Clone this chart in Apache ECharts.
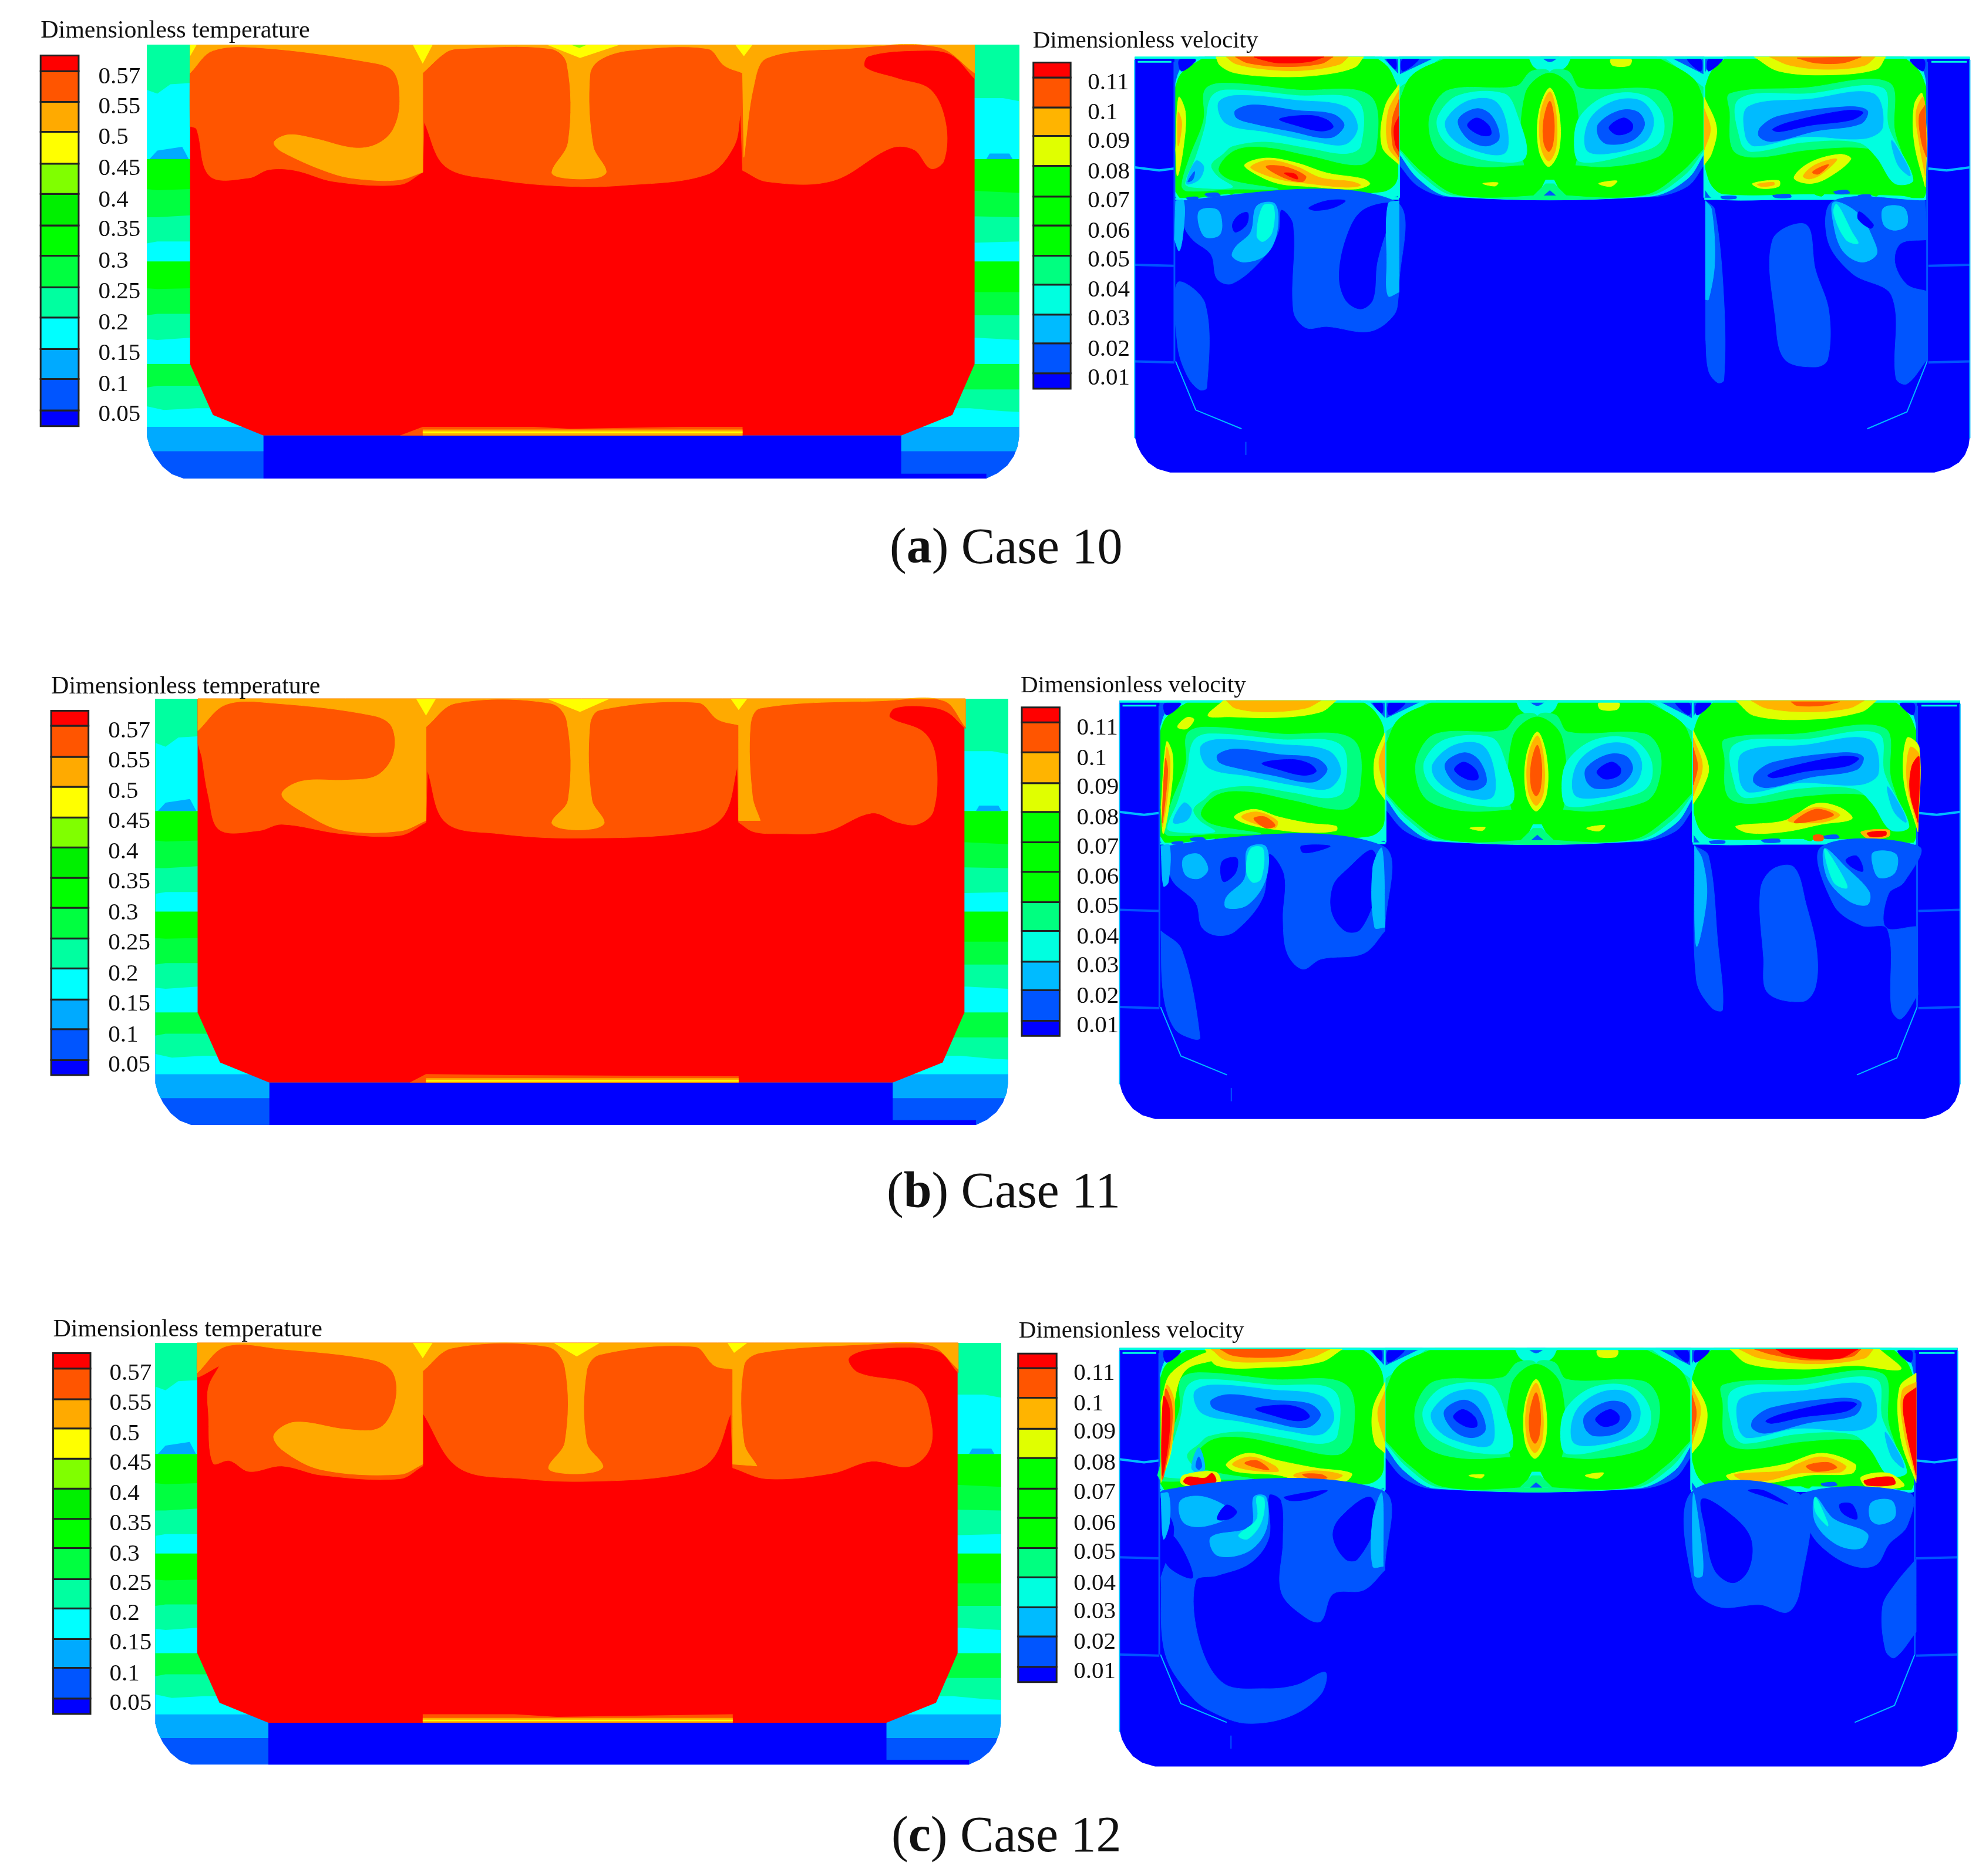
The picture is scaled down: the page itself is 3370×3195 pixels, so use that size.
<!DOCTYPE html>
<html><head><meta charset="utf-8"><style>html,body{margin:0;background:#fff}#c{width:3370px;height:3195px}</style>
<script src="https://cdn.jsdelivr.net/npm/echarts@6/dist/echarts.min.js"></script></head><body><div id="c"></div>
<script>
// Band colours, lowest band first
const tempColors=['#0000ff','#0055ff','#00aaff','#00ffff','#00ffa0','#00ff40','#00ff00','#00f000','#80ff00','#ffff00','#ffaa00','#ff5500','#ff0000'];
const velColors=['#0000ff','#0055ff','#00bbff','#00ffe0','#00ff80','#00ff00','#e0ff00','#ffb400','#ff5500','#ff0000'];
const velLegendLevels=[0,1,2,3,4,5,5,5,6,7,8,9];
const tempTicks=['0.57','0.55','0.5','0.45','0.4','0.35','0.3','0.25','0.2','0.15','0.1','0.05'];
const velTicks=['0.11','0.1','0.09','0.08','0.07','0.06','0.05','0.04','0.03','0.02','0.01'];
const caseNames=['Case 10','Case 11','Case 12'];
const caseLetters=['a','b','c'];
// Contours: [band level, x,y outline, kind]. kind: none=smooth region, 'p'=straight-edged region, number=thin line
const tempBase=[
[1,[224,120,1555,120,1555,1165,1553,1190,1547,1218,1537,1243,1522,1264,1505,1278,280,1278,262,1266,248,1246,236,1218,228,1190,224,1165],'p'],
[2,[224,120,1555,120,1555,1165,1553,1190,1550,1205,232,1205,228,1190,224,1165],'p'],
[3,[224,120,1555,120,1555,1140,224,1140],'p'],
[4,[224,120,1555,120,1555,1100,1530,1098,1480,1090,300,1090,250,1095,224,1085],'p'],
[5,[224,120,1555,120,1555,1040,1490,1040,290,1030,240,1030,224,1035],'p'],
[3,[224,120,1555,120,1555,972,224,972],'p'],
[4,[224,120,1555,120,1555,908,1490,902,290,902,240,908,224,905],'p'],
[5,[224,120,1555,120,1555,842,1490,842,290,838,240,838,224,842],'p'],
[6,[224,120,1555,120,1555,780,1490,780,290,770,240,772,224,770],'p'],
[3,[224,120,1555,120,1555,698,224,698],'p'],
[4,[224,120,1555,120,1555,645,1490,648,290,645,240,645,224,650],'p'],
[5,[224,120,1555,120,1555,580,1490,578,290,575,240,580,224,580],'p'],
[6,[224,120,1555,120,1555,515,1490,510,290,505,240,508,224,505],'p'],
[3,[224,120,1555,120,1555,425,224,425],'p'],
[2,[228,425,240,402,278,392,288,425],'p'],
[2,[1505,425,1510,410,1540,410,1545,425],'p'],
[4,[224,120,1555,120,1555,270,1530,262,1490,262,290,222,260,225,240,250,224,240],'p'],
[12,[290,120,1487,120,1487,972,1453,1108,1375,1163,402,1163,325,1108,290,972],'p'],
[0,[402,1163,1375,1163,1375,1265,1505,1265,1505,1278,402,1278],'p']];
const tempTopA=[
[11,[290,120,290,120,1487,120,1487,120,1487,210,1487,210,1450,145,1400,135,1325,150,1320,180,1370,210,1420,240,1443,330,1440,430,1420,450,1395,400,1360,395,1270,483,1170,485,1133,455,1133,455,1130,300,1130,300,1120,390,1080,465,950,495,860,497,760,480,680,445,647,325,647,325,645,460,645,460,610,493,510,485,450,455,410,453,380,475,320,470,300,345,292,338,290,338]],
[10,[290,195,290,195,325,135,400,128,560,165,600,190,610,270,600,345,575,385,540,395,480,370,440,360,418,380,430,405,510,465,560,480,610,480,645,460,645,460,645,195,645,195,680,140,700,130,840,130,865,170,867,380,842,460,860,475,910,475,925,458,905,390,900,200,915,160,960,135,1080,130,1105,175,1133,195,1133,195,1135,420,1135,420,1150,230,1170,155,1290,130,1430,125,1487,195,1487,195,1487,120,1487,120,290,120,290,120]],
[9,[630,120,660,120,645,170],'p'],[9,[835,120,945,120,885,155],'p'],[9,[1122,120,1148,120,1135,150],'p'],[8,[872,120,895,120,884,128],'p'],[9,[290,120,300,120,290,150],'p'],
[11,[610,1163,645,1140,815,1140,870,1145,1040,1140,1133,1140,1133,1163],'p'],[10,[645,1147,1133,1147,1133,1163,645,1163],'p'],[9,[645,1152,1133,1152,1133,1157,645,1157],'p']];
const tempTopB=[
[11,[302,110,302,110,1473,110,1473,110,1473,190,1473,190,1445,145,1410,130,1365,135,1358,160,1410,200,1428,270,1424,410,1400,445,1370,440,1330,415,1260,465,1190,470,1150,465,1127,440,1127,440,1125,290,1125,290,1105,420,1060,465,880,482,760,470,680,440,652,300,652,300,650,440,650,440,610,475,520,470,430,445,395,462,335,460,318,370,308,265,308,265,302,230,302,230]],
[10,[302,195,302,195,345,125,420,122,570,155,598,185,600,260,575,315,530,327,460,330,430,365,460,410,520,460,610,463,650,435,650,435,650,185,650,185,695,122,840,122,865,170,867,380,842,440,860,457,905,457,922,440,903,380,900,180,915,140,1065,120,1095,165,1127,180,1127,180,1127,435,1127,435,1160,435,1160,435,1148,370,1145,180,1160,135,1350,115,1440,115,1473,185,1473,185,1473,110,1473,110,302,110,302,110]],
[9,[635,110,665,110,650,155],'p'],[9,[835,110,930,110,885,145],'p'],[9,[1115,110,1140,110,1127,140],'p'],
[11,[625,1135,650,1112,785,1115,1127,1118,1127,1135],'p'],[10,[650,1123,1127,1123,1127,1135,650,1135],'p'],[9,[650,1128,1127,1128,1127,1132,650,1132],'p']];
const tempTopC=[
[11,[301,108,301,108,1462,108,1462,108,1462,190,1462,190,1430,130,1330,125,1295,150,1310,190,1400,230,1422,340,1415,410,1385,447,1330,432,1270,465,1170,480,1118,450,1118,450,1115,300,1115,300,1085,430,1030,470,900,487,800,480,700,450,645,300,645,300,645,445,645,445,610,480,490,470,430,445,380,460,350,430,325,437,318,300,318,230,335,170,335,170,305,200,301,200,301,108]],
[10,[301,190,301,190,345,117,430,125,570,155,600,190,603,270,580,340,530,345,450,325,418,360,430,400,490,455,610,468,645,440,645,440,645,185,645,185,690,122,835,118,862,175,862,380,837,450,860,465,905,462,920,445,895,380,895,185,915,140,1060,118,1090,170,1118,180,1118,180,1118,440,1118,440,1155,445,1155,445,1135,380,1135,170,1160,135,1320,112,1420,115,1462,180,1462,180,1462,108,1462,108,301,108,301,108]],
[9,[630,108,660,108,645,150],'p'],[9,[845,108,915,108,880,145],'p'],[9,[1110,108,1140,108,1120,135],'p'],
[11,[645,1125,785,1125,850,1132,1118,1125,1118,1148,645,1148],'p'],[10,[645,1135,1118,1135,1118,1148,645,1148],'p'],[9,[645,1140,1118,1140,1118,1144,645,1144],'p']];
const velBase=[
[0,[185,152,1553,152,1553,1165,1551,1190,1545,1215,1535,1235,1520,1250,1495,1262,243,1262,222,1252,207,1235,196,1212,189,1190,185,1165],'p'],
[1,[250,152,618,152,618,532,250,532],'p'],
[1,[1118,152,1483,152,1483,532,1118,532],'p'],
[3,[290,152,590,152,618,200,618,450,618,522,600,530,260,535,250,522,250,230,262,180]],
[5,[300,152,578,152,600,180,615,230,618,440,612,490,590,512,450,522,350,516,262,530,252,512,250,240,262,195]],
[3,[1150,152,1455,152,1475,185,1483,240,1483,514,1478,535,1300,530,1135,532,1118,505,1118,200,1125,180]],
[5,[1155,152,1445,152,1470,190,1483,240,1483,505,1475,530,1440,522,1300,518,1150,518,1130,495,1118,440,1118,240,1130,190]],
[1,[618,152,1118,152,1118,440,1090,498,1030,526,700,526,650,498,618,440]],
[3,[680,152,1060,152,1118,200,1118,410,1090,478,1030,524,700,524,650,478,618,410,618,200]],
[4,[690,152,1050,152,1118,235,1118,400,1085,468,1025,522,710,522,655,468,618,400,618,235]],
[5,[700,152,1040,152,1100,210,1118,270,1118,395,1078,462,1020,520,885,520,865,505,848,520,715,520,658,462,618,395,618,270,640,200]],
[3,[830,152,900,152,890,180,865,195,840,180]],[1,[850,152,880,152,865,165]],
[3,[845,522,858,480,872,480,885,522],'p'],[4,[838,522,858,490,872,490,892,522],'p'],[1,[855,522,865,508,875,522],'p'],
[4,[670,300,700,240,810,230,835,190,865,195,865,445,835,440,750,445,690,420,670,370]],
[4,[865,195,895,190,915,235,1040,240,1065,290,1060,380,1040,420,960,445,895,440,865,445]],
[5,[825,250,865,195,905,250,905,450,865,465,825,450]],
[3,[682,310,715,255,790,250,810,300,825,420,770,430,710,400,685,360]],
[2,[695,320,730,270,775,270,795,340,790,410,730,395,700,360]],
[1,[715,320,745,290,770,310,782,370,760,390,730,370]],
[0,[730,335,745,315,765,335,768,360,750,360]],
[3,[915,310,960,255,1020,255,1050,310,1045,380,1000,410,915,432,905,380]],
[2,[930,320,970,270,1015,270,1035,320,1020,380,960,410,925,400]],
[1,[945,330,980,295,1010,300,1020,335,1000,375,960,385,945,365]],
[0,[962,340,985,315,1000,330,998,350,975,360]],
[6,[865,235,880,300,880,400,863,445,847,400,847,300]],
[7,[865,245,875,300,875,395,863,430,850,390,850,300]],
[8,[865,270,872,320,870,385,863,405,855,380,855,320]],
[6,[965,158,998,158,995,175,968,175]],
[6,[755,490,780,488,775,497]],[6,[945,490,975,483,965,498]],
[3,[250,529,618,527,618,533,250,534],'p'],[3,[1118,528,1483,529,1483,534,1118,534],'p'],
[1,[300,518,320,515,325,523,305,525]],[0,[405,522,420,519,424,525,408,527]],[5,[335,510,348,508,344,520]],[5,[425,508,442,506,440,518]],[1,[360,520,380,518,383,526,365,527]],[0,[500,525,525,524,524,530,505,531]],[1,[270,528,288,526,288,532,272,533]],
[1,[1230,522,1258,519,1260,527,1235,528]],[1,[1330,512,1352,508,1356,516,1335,518]],[5,[1295,514,1316,511,1310,524]],[5,[1385,512,1406,509,1400,524]],[1,[1370,522,1390,520,1391,527,1372,528]],[1,[1145,525,1170,524,1170,530,1148,531]],
[0,[258,160,285,160,262,190]],[0,[598,158,612,158,612,185]],[0,[624,158,650,158,624,190]],[0,[1090,158,1112,158,1112,190]],[0,[1125,158,1148,158,1125,190]],[0,[1455,160,1478,160,1476,190]],
[3,[190,165,245,165],3],[3,[1490,165,1548,165],3],[3,[185,154,1553,154],4],
[2,[185,447,225,455,250,450],4],[1,[185,707,250,710],4],[1,[185,965,250,968],4],
[2,[1553,447,1515,455,1485,450],4],[1,[1553,707,1485,710],4],[1,[1553,965,1485,968],4],
[1,[250,165,250,965],3],[1,[1483,165,1483,965],3],[3,[618,152,618,528],3],[3,[1118,152,1118,528],3],
[2,[252,965,285,1095,360,1145],2],[2,[1483,965,1450,1100,1385,1145],2],[1,[367,1180,367,1215],2],[2,[185,160,185,1170],2],[2,[1553,160,1553,1170],2]];
const velVortexL=[
[4,[300,240,330,222,450,240,570,255,580,400,555,440,470,415,400,393,350,400,322,450,340,480,420,505,350,505,270,510,262,495,275,420,298,320]],
[3,[310,260,335,240,450,255,550,270,555,390,530,410,470,395,400,378,345,390,330,410,310,440,320,470,345,500,280,500,268,490,285,420,300,340]],
[2,[322,275,350,255,450,268,530,285,550,340,530,385,480,378,400,352,335,330]],
[1,[350,295,380,280,450,295,510,305,528,335,505,368,440,350,380,330,352,315]],
[0,[422,318,470,308,500,320,510,340,490,350,450,335]]];
const velVortexR=[
[4,[1160,250,1280,235,1420,220,1430,350,1445,440,1420,420,1380,395,1290,400,1200,420,1165,400,1160,300]],
[3,[1175,265,1290,250,1410,235,1420,340,1460,480,1430,490,1400,420,1370,380,1280,380,1195,405,1178,380]],
[2,[1190,285,1290,265,1395,250,1410,340,1380,370,1280,365,1200,390,1185,360]],
[1,[1210,340,1240,310,1350,285,1385,295,1375,330,1300,350,1230,378,1208,365]],
[0,[1230,345,1260,325,1350,295,1378,300,1360,320,1290,335,1240,352]],
[2,[1425,375,1450,440,1455,470,1435,440]]];
const velDetailA=[
[6,[318,152,560,152,545,180,490,200,420,205,350,195,325,175]],[7,[335,152,535,152,520,172,460,188,400,185,350,170]],[8,[350,152,510,152,490,170,430,178,370,168]],[9,[380,152,495,152,470,165,420,168,395,160]],
[6,[618,225,595,285,590,390,618,440,618,440]],[7,[618,240,600,300,600,390,618,430,618,430]],[8,[618,265,607,320,608,390,618,420,618,420]],[9,[618,310,610,340,612,385,618,405,618,405]],
[6,[257,260,268,300,265,390,255,470,252,400]],[7,[256,300,262,330,256,390]],
[6,[365,440,400,422,450,435,500,462,560,478,570,492,545,505,470,498,420,490,380,462]],[7,[375,445,405,428,450,445,490,475,540,485,555,495,530,500,470,490,425,480,385,458]],[8,[400,445,430,445,465,470,460,485,430,475]],[9,[430,462,448,465,452,478,440,472]],
[2,[270,490,285,430,298,445,290,480]],[1,[272,485,283,458,280,480]],
[1,[265,536,610,536,618,780,610,840,570,885,500,872,465,875,445,830,445,600,425,560,420,620,395,690,345,757,320,745,310,680,280,640,265,600]],
[0,[610,545,560,560,535,620,520,730,530,800,555,825,575,800,582,700,600,600]],[0,[470,555,500,536,530,536,510,555,480,562]],
[2,[290,565,320,560,328,600,322,630,298,630]],[2,[385,550,415,545,418,620,400,680,365,700,345,685,350,660,375,620]],[3,[395,550,412,550,410,620,395,645,385,630]],[0,[355,575,370,568,368,600,350,620,345,600]],
[2,[600,545,618,536,618,780,600,790,598,700]],[2,[252,536,265,536,265,610,258,670,250,640]],
[1,[255,755,300,810,303,1035,290,1040,270,1000,255,920]],
[1,[1120,536,1135,560,1150,800,1150,1015,1140,1022,1125,990,1120,900]],[2,[1120,536,1130,560,1135,700,1125,800,1120,800]],
[1,[1230,640,1285,600,1300,720,1322,830,1320,960,1300,980,1250,960,1235,860]],
[1,[1330,536,1480,536,1483,640,1440,650,1430,700,1450,760,1483,778,1483,960,1450,1025,1432,1010,1425,790,1360,730,1320,640]],
[2,[1330,540,1370,570,1395,640,1400,680,1375,700,1345,670,1330,600]],[3,[1335,545,1360,620,1370,650,1350,640,1330,570]],
[2,[1412,555,1445,555,1450,600,1430,615,1412,600]],[0,[1372,565,1395,600,1390,610,1370,585]],
[6,[1200,152,1415,152,1400,185,1320,200,1240,190]],[7,[1225,152,1398,152,1380,175,1320,185,1260,175]],[8,[1270,155,1375,152,1345,168,1300,168]],
[6,[1118,260,1138,340,1130,410,1118,440]],[7,[1118,290,1128,345,1118,400]],
[6,[1462,280,1475,250,1483,370,1480,500,1462,380]],[7,[1465,300,1477,260,1482,370,1480,470,1470,380]],[8,[1470,310,1480,280,1482,420,1474,380]],
[6,[1265,475,1290,435,1340,412,1358,425,1320,475,1290,490]],[7,[1280,470,1300,440,1335,425,1310,465,1290,478]],[8,[1295,460,1310,445,1322,440,1305,465]],
[6,[1197,490,1240,482,1240,498,1210,503]],[7,[1205,492,1232,487,1232,494,1212,498]]];
const velDetailB=[
[6,[305,155,330,115,515,115,490,145,420,160,340,158]],[7,[335,115,490,115,465,135,400,145,350,135]],[6,[255,185,270,160,282,165,270,190]],
[6,[595,200,578,270,580,340,595,380]],[7,[595,225,585,280,595,350]],
[6,[237,225,247,260,245,350,232,470,228,400]],[7,[237,240,243,280,238,380,230,450]],[8,[235,270,239,300,235,380,230,440]],
[6,[348,425,380,405,420,425,470,442,515,450,515,462,470,467,420,460,370,445]],[7,[360,425,385,412,418,435,415,455,385,445]],[8,[380,430,398,425,415,448,400,455]],
[2,[248,440,265,388,278,405,270,435]],
[6,[1170,115,1400,115,1375,145,1290,165,1200,155]],[7,[1195,115,1380,115,1355,135,1290,145,1220,135]],[8,[1260,118,1340,118,1310,128,1270,128]],
[6,[1100,195,1125,290,1115,350,1100,390]],[7,[1100,215,1115,290,1100,370]],[8,[1100,240,1107,290,1100,340]],
[6,[1450,215,1470,240,1468,465,1445,330]],[7,[1455,240,1470,260,1468,455,1450,330]],[9,[1458,290,1470,265,1468,440,1455,360]],
[6,[1170,450,1250,435,1300,390,1340,400,1360,430,1310,445,1250,465,1190,468]],[7,[1255,435,1300,400,1340,420,1310,440]],[8,[1265,440,1300,405,1330,420,1300,435]],
[7,[1375,465,1420,460,1420,478,1385,482]],[9,[1385,468,1415,464,1415,475,1390,478]],[8,[1297,475,1312,475,1312,488,1298,488]],
[1,[245,502,590,502,595,730,560,790,490,805,460,832,435,790,428,700,430,580,405,525,395,640,350,730,320,742,295,720,285,655,245,590]],
[0,[510,610,530,570,575,515,580,620,555,725,530,730,508,680]],[0,[458,503,505,503,480,518,460,520]],
[2,[265,535,290,525,305,565,290,590,268,580]],[0,[328,545,352,535,350,575,330,598]],[2,[370,510,400,505,400,590,370,660,335,668,335,640,365,590]],[3,[375,510,395,510,392,590,378,600,368,570]],
[2,[575,560,590,510,595,720,578,720]],[2,[228,502,242,502,240,600,232,610]],
[1,[228,730,262,780,292,1015,280,1018,250,990,232,900]],
[1,[1102,502,1125,530,1140,760,1148,940,1130,935,1105,860]],[2,[1102,502,1115,540,1122,640,1105,770]],
[1,[1210,620,1230,565,1265,560,1285,660,1302,780,1300,880,1280,918,1222,895,1215,800]],
[1,[1310,505,1470,505,1445,600,1420,630,1415,720,1465,718,1468,900,1440,965,1425,940,1418,725,1375,715,1330,660]],
[2,[1315,510,1350,560,1388,625,1385,660,1355,650,1320,590]],[3,[1315,510,1340,570,1352,615,1330,600]],[0,[1350,540,1368,530,1378,570,1360,560]],[2,[1395,520,1432,525,1430,575,1405,588,1395,560]]];
const velDetailC=[
[6,[300,125,525,125,490,160,400,175,320,170]],[7,[310,125,505,125,470,150,400,160,335,155]],[8,[325,125,465,125,440,142,390,148,345,142]],
[6,[595,215,575,290,578,380,595,410]],[7,[595,240,583,300,595,380]],
[6,[228,270,245,190,310,130,320,150,270,180,252,250,245,400,228,490]],[7,[237,225,250,270,245,390,228,485]],[8,[235,235,246,280,243,380,230,480]],[9,[232,255,242,290,240,380,230,470]],
[6,[335,440,370,410,420,430,480,450,540,465,530,487,470,492,420,470,350,460]],[7,[345,440,375,420,415,445,420,460,370,455]],[7,[445,470,480,458,525,470,510,483,470,485]],[8,[365,437,385,430,405,455,385,450]],[8,[460,468,490,468,500,478,475,480]],
[2,[278,450,290,395,300,450,290,465]],[1,[285,445,290,420,295,445,290,455]],
[6,[260,490,265,470,318,462,325,495,300,508,270,500]],[9,[265,488,272,475,300,478,312,465,318,488,300,502,275,497]],
[6,[1160,125,1405,125,1440,180,1365,170,1280,180,1190,165]],[7,[1175,125,1395,125,1380,150,1300,165,1210,150]],[8,[1200,125,1375,125,1360,145,1290,155,1230,140]],[9,[1235,125,1370,125,1340,150,1290,150,1250,138]],
[6,[1098,210,1122,290,1115,370,1098,410]],[7,[1098,230,1112,290,1098,385]],[8,[1098,250,1105,300,1098,360]],
[6,[1438,230,1465,190,1465,490,1440,370]],[7,[1442,240,1465,215,1465,480,1445,350]],[9,[1445,260,1465,230,1465,470,1448,340]],
[6,[1155,470,1250,440,1310,410,1365,440,1360,465,1290,470,1230,490,1170,490]],[7,[1168,468,1250,458,1270,440,1310,420,1350,445,1340,462,1270,465,1220,485,1180,483]],[8,[1285,445,1320,435,1335,450,1300,460]],
[6,[1375,475,1420,465,1445,500,1385,503]],[9,[1380,485,1425,475,1430,495,1385,498]],
[1,[232,512,590,512,595,730,560,785,510,795,490,870,465,860,425,790,428,650,425,540,405,525,405,640,375,710,320,745,285,760,290,920,330,1040,400,1055,450,1045,497,1010,490,1070,440,1130,370,1150,320,1125,280,1080,235,960,228,750,250,620]],
[0,[228,650,250,640,280,750,240,720]],
[0,[510,640,520,590,570,530,580,600,550,700,530,700]],[0,[430,530,500,512,470,535,440,540]],
[2,[260,540,300,530,345,575,300,610,265,600]],[0,[320,590,335,552,352,570,340,590]],
[2,[310,640,375,610,380,530,400,530,400,620,370,680,320,690]],[3,[355,635,385,590,385,530,397,535,392,600,370,645]],
[2,[228,520,240,520,242,600,232,645]],[2,[575,590,590,520,592,720,575,720]],
[1,[1100,512,1280,530,1275,780,1255,845,1210,825,1140,830,1100,770]],[0,[1115,535,1170,590,1195,650,1190,730,1165,765,1135,730,1120,620]],[2,[1100,520,1112,640,1115,745,1102,745]],[0,[1190,512,1215,512,1255,550,1220,530]],
[1,[1280,520,1455,520,1450,610,1420,660,1400,715,1365,720,1320,680,1290,620]],
[2,[1300,530,1330,590,1385,630,1375,670,1335,660,1300,600]],[3,[1300,530,1320,600,1320,610,1300,570]],[0,[1340,550,1360,550,1368,590,1345,575]],[2,[1392,545,1425,540,1430,585,1405,605,1390,590]],
[1,[1465,700,1465,900,1430,970,1415,950,1410,830,1430,770]]];
// Extents of each hull inside its crop: x0,x1,y0,y1
const tempHulls=[[224,1555,120,1280],[237,1538,110,1250],[237,1527,108,1265]];
const velHulls=[[185,1553,152,1262],[160,1537,115,1232],[160,1533,122,1268]];
const velWalls=[250,618,1118,1483];
const vortexShifts=[[[0,0],[0,0]],[[-5,0],[10,5]],[[-15,-5],[10,0]]];
// Legend band edges and tick-label rows per case
const tempLegendEdges=[[148,190,272,352,437,518,602,683,767,848,932,1012,1096,1138],[142,182,265,345,427,507,588,668,750,830,913,992,1075,1115],[136,178,262,342,425,507,590,670,755,835,919,998,1082,1124]];
const tempLabelRows=[[205,285,368,450,535,613,698,780,863,945,1028,1108],[197,276,358,438,520,600,683,762,845,925,1008,1088],[192,273,357,438,522,603,687,767,850,930,1015,1095]];
const velLegendEdges=[[167,207,287,363,443,525,602,683,760,840,917,997,1038],[133,173,253,335,412,493,572,653,730,812,888,970,1010],[137,177,258,343,423,507,587,670,750,832,912,995,1037]];
const velLabelRows=[[222,302,378,460,537,618,695,775,852,933,1010],[188,270,347,428,507,587,665,747,824,905,983],[192,275,353,438,518,603,682,767,845,928,1008]];

const tempCrops=[[0,0,1750,1000],[0,1120,1750,1000],[0,2220,1750,975]];
const velCrops=[[1740,0,1630,1000],[1740,1120,1630,1000],[1740,2220,1630,975]];
const tempLegendX=[[62,120,150],[78,135,165],[81,138,167]],velLegendX=[[19,80,108],[0,62,90],[-6,57,85]];
const tempTitleAt=[[62,83],[78,78],[81,73]],velTitleAt=[[18,110],[-2,76],[-5,76]];
const captionAt=[[1515,893],[1510,1990],[1518,3087]];

function remap(layers,from,to,shift){const s=shift||[0,0];return layers.map(l=>{const p=l[1].map((v,i)=>i%2==0?to[0]+(v-from[0])*(to[1]-to[0])/(from[1]-from[0])+s[0]:to[2]+(v-from[2])*(to[3]-to[2])/(from[3]-from[2])+s[1]);return [l[0],p,l[2]]})}
// A vertex on a cell wall or on the top edge is a corner: repeating it keeps the spline from crossing that edge
function pinCorners(layers,top,walls){return layers.map(l=>{if(l[2]!==undefined)return l;const p=[];for(let i=0;i<l[1].length;i+=2){const x=l[1][i],y=l[1][i+1];p.push(x,y);if(y<=top+4||walls.some(w=>Math.abs(w-x)<=3))p.push(x,y);}return [l[0],p,l[2]]})}
const grids=[],xAxis=[],yAxis=[],series=[];
function panel(crop,layers,colors,edges,rows,lx,ticks,legendLevels,title,titleAt,titleSize){
  const g=grids.length;
  grids.push({left:crop[0],top:crop[1],width:crop[2],height:crop[3],show:false});
  xAxis.push({type:'value',gridIndex:g,min:0,max:1568,show:false});
  yAxis.push({type:'value',gridIndex:g,min:0,max:1568,inverse:true,show:false});
  const bands=legendLevels.map((lv,i)=>[lv,[lx[0],edges[edges.length-1-i],lx[1],edges[edges.length-1-i],lx[1],edges[edges.length-2-i],lx[0],edges[edges.length-2-i]],'p']);
  series.push({type:'custom',coordinateSystem:'cartesian2d',xAxisIndex:g,yAxisIndex:g,animation:false,silent:true,progressive:0,
    data:layers.map((l,i)=>[i]),
    renderItem(p,api){const l=layers[p.dataIndex],pts=[];for(let i=0;i<l[1].length;i+=2)pts.push(api.coord([l[1][i],l[1][i+1]]));
      const c=colors[l[0]];
      if(typeof l[2]==='number')return {type:'polyline',shape:{points:pts},style:{fill:null,stroke:c,lineWidth:l[2]}};
      return {type:'polygon',shape:{points:pts,smooth:l[2]==='p'?0:0.35},style:{fill:c,stroke:c,lineWidth:l[2]==='p'?0:1}};}});
  series.push({type:'custom',coordinateSystem:'cartesian2d',xAxisIndex:g,yAxisIndex:g,animation:false,silent:true,progressive:0,
    data:bands.map((b,i)=>[i]),
    renderItem(p,api){const b=bands[p.dataIndex],pts=[];for(let i=0;i<8;i+=2)pts.push(api.coord([b[1][i],b[1][i+1]]));
      return {type:'polygon',shape:{points:pts},style:{fill:colors[b[0]],stroke:'#222',lineWidth:3}};}});
  const labels=ticks.map((t,i)=>[lx[2],rows[i],t,41]).concat([[titleAt[0],titleAt[1],title,titleSize]]);
  series.push({type:'custom',coordinateSystem:'cartesian2d',xAxisIndex:g,yAxisIndex:g,animation:false,silent:true,progressive:0,
    data:labels.map((b,i)=>[i]),
    renderItem(p,api){const b=labels[p.dataIndex],c=api.coord([b[0],b[1]]);
      return {type:'text',x:c[0],y:c[1],style:{text:b[2],font:b[3]+'px "Liberation Serif"',fill:'#111',textAlign:'left',textVerticalAlign:'middle'}};}});
}
const tops=[tempTopA,tempTopB,tempTopC],dets=[velDetailA,velDetailB,velDetailC];
for(let k=0;k<3;k++){
  panel(tempCrops[k],remap(tempBase,tempHulls[0],tempHulls[k]).concat(tops[k]),tempColors,tempLegendEdges[k],tempLabelRows[k],tempLegendX[k],tempTicks,tempColors.map((c,i)=>i),'Dimensionless temperature',tempTitleAt[k],42);
  const h=velHulls[k],sx=(h[1]-h[0])/(velHulls[0][1]-velHulls[0][0]);
  const walls=velWalls.map(w=>h[0]+(w-velHulls[0][0])*sx);
  const sides=remap(velVortexL,velHulls[0],h,vortexShifts[k][0]).concat(remap(velVortexR,velHulls[0],h,vortexShifts[k][1]));
  // hot spots and lower plumes of case k come after the shared field
  const layers=pinCorners(remap(velBase,velHulls[0],h).concat(sides,dets[k]),h[2],walls);
  panel(velCrops[k],layers,velColors,velLegendEdges[k],velLabelRows[k],velLegendX[k],velTicks,velLegendLevels,'Dimensionless velocity',velTitleAt[k],41);
}
const rich={n:{fontSize:86,fontFamily:'Liberation Serif',fontWeight:'normal',color:'#111'},b:{fontSize:86,fontFamily:'Liberation Serif',fontWeight:'bold',color:'#111'}};
const titles=caseNames.map((n,k)=>({text:'{n|(}{b|'+caseLetters[k]+'}{n|) '+n+'}',left:captionAt[k][0],top:captionAt[k][1],padding:0,textStyle:{fontWeight:'normal',rich}}));
const chart=echarts.init(document.getElementById('c'),null,{renderer:'canvas',width:3370,height:3195});
chart.setOption({animation:false,backgroundColor:'#fff',title:titles,grid:grids,xAxis,yAxis,series});
</script></body></html>
